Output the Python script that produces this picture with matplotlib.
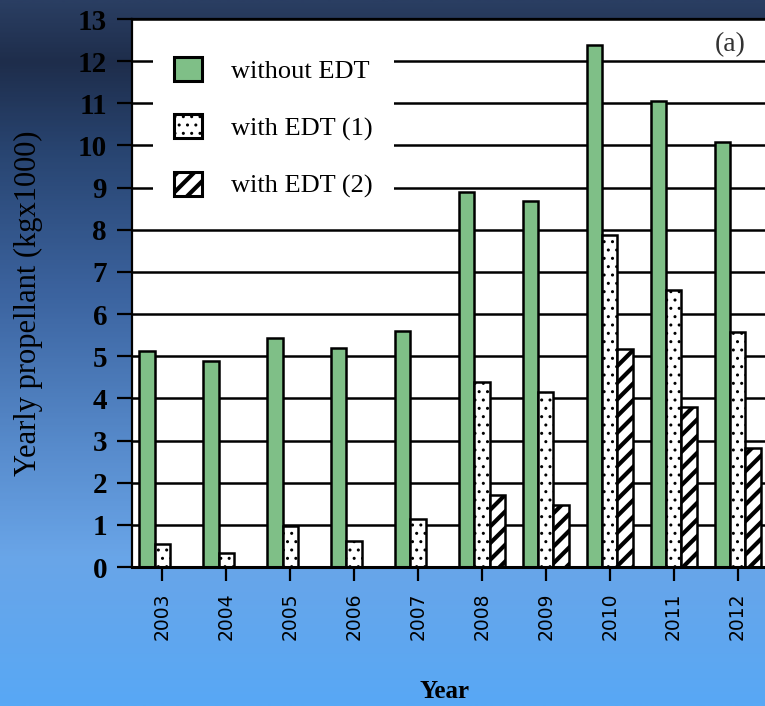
import numpy as np
import matplotlib
matplotlib.use("Agg")
import matplotlib.pyplot as plt
from matplotlib.patches import Patch
from matplotlib.colors import LinearSegmentedColormap

# Yearly propellant consumption (kg x 1000)
years = ["2003", "2004", "2005", "2006", "2007", "2008", "2009", "2010", "2011", "2012"]
without_edt = [5.12, 4.88, 5.44, 5.19, 5.61, 8.90, 8.69, 12.38, 11.06, 10.08]
with_edt_1 = [0.54, 0.33, 0.97, 0.62, 1.15, 4.38, 4.14, 7.88, 6.57, 5.57]
with_edt_2 = [0, 0, 0, 0, 0, 1.71, 1.47, 5.18, 3.79, 2.82]
series_labels = ["without EDT", "with EDT (1)", "with EDT (2)"]

GREEN = "#7fbf87"
W, H = 765, 706
DOT_LW, STRIPE_LW = 1.0, 3.0

fig = plt.figure(figsize=(W / 100, H / 100), dpi=100)

# blue gradient backdrop
bg = fig.add_axes([0, 0, 1, 1], zorder=-10)
stops = [(0.0, (42, 62, 98)), (0.085, (30, 45, 75)), (0.21, (40, 68, 112)),
         (0.42, (60, 100, 160)), (0.64, (88, 140, 205)), (0.79, (105, 165, 232)),
         (1.0, (88, 168, 245))]
cmap = LinearSegmentedColormap.from_list(
    "bg", [(p, tuple(c / 255 for c in rgb)) for p, rgb in stops])
grad = np.linspace(0, 1, 400).reshape(-1, 1)
bg.imshow(grad, cmap=cmap, aspect="auto", extent=[0, 1, 0, 1], origin="upper")
bg.set_axis_off()

# main axes, right side runs past the figure edge
step = 63.9
x0, x1 = -0.476, 9.6
ax = fig.add_axes([132 / W, (H - 567) / H, (x1 - x0) * step / W, 548 / H])
ax.set_facecolor("white")

x = np.arange(len(years))
bw = 0.24
lw = 1.8

b1 = ax.bar(x - bw, without_edt, bw, color=GREEN, edgecolor="black", linewidth=lw)

plt.rcParams["hatch.linewidth"] = DOT_LW
b2 = ax.bar(x, with_edt_1, bw, color="white", edgecolor="black", linewidth=lw, hatch="..")

plt.rcParams["hatch.linewidth"] = STRIPE_LW
b3 = ax.bar(x + bw, with_edt_2, bw, color="white", edgecolor="black", linewidth=lw, hatch="//")

for bars, hl in ((b2, DOT_LW), (b3, STRIPE_LW)):
    for p in bars:
        if hasattr(p, "set_hatch_linewidth"):
            p.set_hatch_linewidth(hl)

ax.set_xlim(x0, x1)
ax.set_ylim(0, 13)
ax.set_yticks(range(0, 14))
ax.set_xticks(x)
ax.set_xticklabels(years, rotation=90, fontsize=13.5, family="DejaVu Sans")
ax.set_axisbelow(True)
ax.yaxis.grid(True, color="black", linewidth=1.8)

for lab in ax.get_yticklabels():
    lab.set_fontfamily("Liberation Serif")
    lab.set_fontweight("bold")
    lab.set_fontsize(21)

ax.tick_params(axis="y", direction="out", length=11, width=1.6, pad=7)
ax.tick_params(axis="x", direction="out", length=10, width=1.6, pad=8)
ax.spines["left"].set_linewidth(1.6)
ax.spines["bottom"].set_linewidth(2.2)
ax.spines["top"].set_linewidth(1.6)

plt.rcParams["hatch.linewidth"] = DOT_LW
handles = [
    Patch(facecolor=GREEN, edgecolor="black", linewidth=2.2),
    Patch(facecolor="white", edgecolor="black", linewidth=2.2, hatch=".."),
    Patch(facecolor="white", edgecolor="black", linewidth=2.2, hatch="//"),
]
leg = ax.legend(handles, series_labels, loc="upper left",
                bbox_to_anchor=(153 / W, 1 - 36 / H), bbox_transform=fig.transFigure,
                prop={"family": "Liberation Serif", "size": 19},
                frameon=True, fancybox=False, framealpha=1, borderpad=0.8,
                labelspacing=1.18, handlelength=1.06, handleheight=1.03,
                handletextpad=1.1, borderaxespad=0)
leg.get_frame().set_facecolor("white")
leg.get_frame().set_edgecolor("none")
stripe_handle = leg.legend_handles[2]
if hasattr(stripe_handle, "set_hatch_linewidth"):
    stripe_handle.set_hatch_linewidth(STRIPE_LW)

fig.text(28 / W, 1 - 303 / H, "Yearly propellant (kgx1000)", rotation=90,
         ha="center", va="center", family="Liberation Serif", fontsize=22)
fig.text(444 / W, 1 - 692 / H, "Year", ha="center", va="center",
         family="Liberation Serif", fontweight="bold", fontsize=18)
fig.text(730 / W, 1 - 45 / H, "(a)", ha="center", va="center",
         family="Liberation Serif", fontsize=20, color="#333333")

fig.savefig("out.png", dpi=100)
